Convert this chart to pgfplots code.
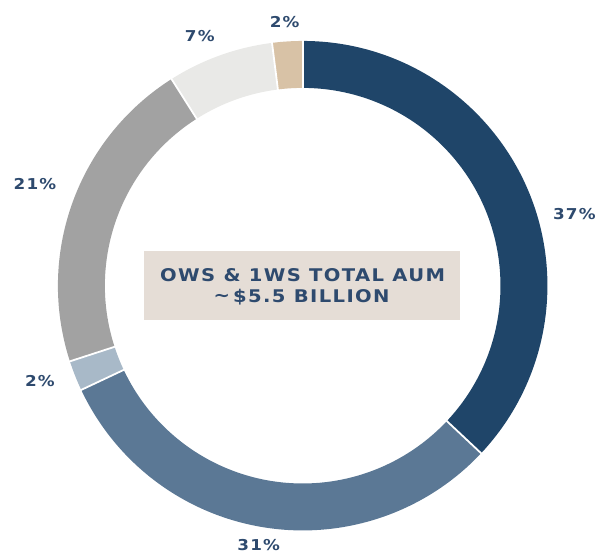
\documentclass[border=0pt]{standalone}
\usepackage{pgfplots}
\pgfplotsset{compat=1.18}
\usepackage{fontspec}
\setmainfont{DejaVu Sans}
\newfontfamily\labfont{DejaVu Sans}[LetterSpace=8, FakeStretch=1.12]
\definecolor{cA}{HTML}{1F4569}
\definecolor{cB}{HTML}{5B7895}
\definecolor{cC}{HTML}{A8B9C8}
\definecolor{cD}{HTML}{A2A2A2}
\definecolor{cE}{HTML}{E9E9E7}
\definecolor{cF}{HTML}{D8C2A6}
\definecolor{txt}{HTML}{2E4A6E}
\definecolor{boxc}{HTML}{E5DDD6}
% cumulative start/end percentages of each segment (37, 31, 2, 21, 7, 2)
\newcommand\seg[3]{%
  \fill[#3] (axis cs:{245*cos(90-3.6*#1)},{245*sin(90-3.6*#1)})
    arc[start angle={90-3.6*#1}, end angle={90-3.6*#2}, radius=245bp]
    -- (axis cs:{198*cos(90-3.6*#2)},{198*sin(90-3.6*#2)})
    arc[start angle={90-3.6*#2}, end angle={90-3.6*#1}, radius=198bp] -- cycle;}
\newcommand\sep[1]{%
  \draw[white, line width=1.8bp] (axis cs:{190*cos(90-3.6*#1)},{190*sin(90-3.6*#1)})
    -- (axis cs:{252*cos(90-3.6*#1)},{252*sin(90-3.6*#1)});}
\begin{document}
\begin{tikzpicture}
\begin{axis}[x=1bp, y=1bp, xmin=-303, xmax=296, ymin=-268, ymax=286,
  hide axis, clip=false]
\addplot[draw=none, forget plot] coordinates {(-303,-268) (296,286)};
\seg{0}{37}{cA}
\seg{37}{68}{cB}
\seg{68}{70}{cC}
\seg{70}{91}{cD}
\seg{91}{98}{cE}
\seg{98}{100}{cF}
\sep{0}\sep{37}\sep{68}\sep{70}\sep{91}\sep{98}
\fill[boxc] (axis cs:-159,-34) rectangle (axis cs:157,35);
\node[txt, font=\labfont\bfseries\fontsize{17.5bp}{22bp}\selectfont, align=center]
  at (axis cs:0,11) {OWS \& 1WS TOTAL AUM};
\node[txt, font=\labfont\bfseries\fontsize{17.5bp}{22bp}\selectfont, align=center]
  at (axis cs:-1,-11) {\raisebox{0.1ex}{\textasciitilde}\,\$5.5 BILLION};
\begin{scope}[every node/.style={txt, font=\labfont\bfseries\fontsize{15bp}{18bp}\selectfont}]
\node at (axis cs:272,72) {37\%};
\node at (axis cs:-44,-260) {31\%};
\node at (axis cs:-263,-95) {2\%};
\node at (axis cs:-268,102) {21\%};
\node at (axis cs:-103,250) {7\%};
\node at (axis cs:-18,264) {2\%};
\end{scope}
\end{axis}
\end{tikzpicture}
\end{document}
